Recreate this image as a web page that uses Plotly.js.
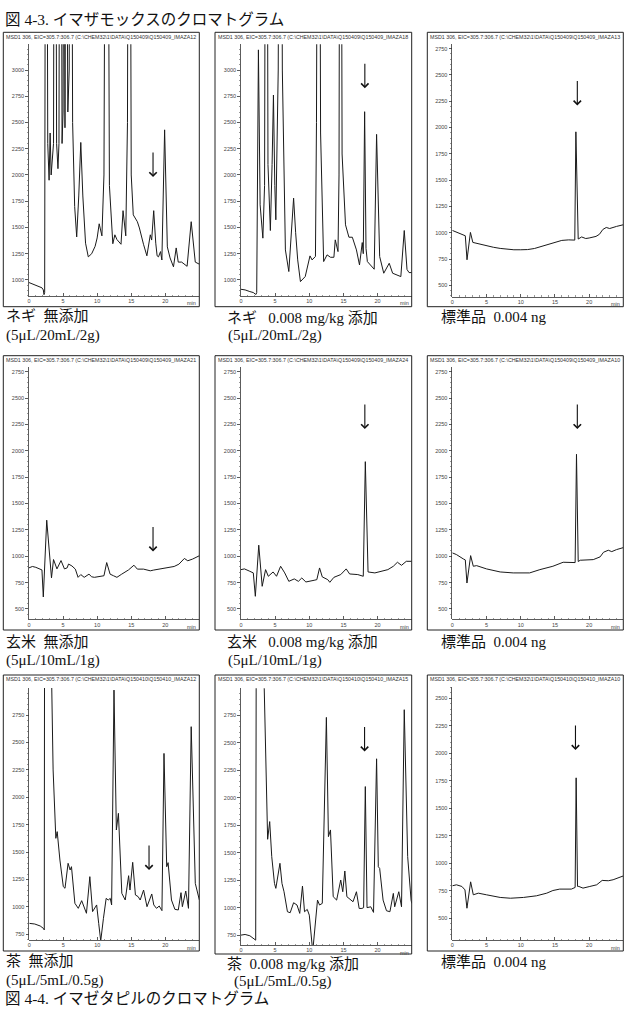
<!DOCTYPE html>
<html>
<head>
<meta charset="utf-8">
<script src="https://cdn.plot.ly/plotly-3.0.1.min.js"></script>
<style>
  html, body { margin: 0; padding: 0; background: #fff; }
  #chart { width: 626px; height: 1009px; }
</style>
</head>
<body>
<div id="chart"></div>
<script>
// ---- Chromatogram data: retention time (min) and EIC signal ----
// Figure 4-3, row 1: leek (ネギ)
const negiBlankTime = [0, 0.5, 1.0, 1.5, 1.9, 2.1, 2.2, 2.3, 2.5, 2.75, 2.95, 3.1, 3.25, 3.6, 3.8, 4.05, 4.25, 4.4, 4.6, 4.85, 5.0, 5.15, 5.28, 5.42, 5.7, 5.9, 6.1, 6.4, 6.7, 7.0, 7.3, 7.6, 7.9, 8.3, 8.7, 9.2, 9.7, 10.0, 10.3, 10.7, 11.0, 11.4, 11.8, 12.3, 12.6, 12.9, 13.5, 13.8, 14.2, 14.45, 14.7, 15.0, 15.3, 15.9, 16.2, 16.5, 16.8, 17.3, 17.8, 18.0, 18.3, 18.6, 18.8, 19.0, 19.3, 19.5, 19.9, 20.3, 20.7, 21.2, 21.6, 21.9, 22.4, 23.2, 23.8, 24.4, 25.0];
const negiBlankSignal = [975, 962, 950, 938, 925, 905, 860, 880, 9000, 2300, 1950, 2400, 2000, 2300, 9000, 2300, 2060, 2300, 9000, 2300, 2600, 6000, 2450, 6000, 2600, 3000, 9000, 2500, 1700, 1410, 1800, 2310, 1800, 1350, 1220, 1250, 1320, 1400, 1535, 1420, 2000, 9000, 1900, 1345, 1430, 1385, 1340, 1660, 1420, 2500, 9000, 2000, 1620, 1555, 1495, 1400, 1340, 1230, 1430, 1380, 1660, 1350, 1230, 1220, 1270, 1190, 2430, 1315, 1210, 1125, 1305, 1170, 1170, 1130, 1555, 1170, 1150];

const negiSpikeTime = [0, 0.6, 1.3, 1.8, 2.1, 2.2, 2.3, 2.55, 2.8, 3.2, 3.45, 3.7, 3.95, 4.3, 4.55, 4.75, 4.95, 5.1, 5.45, 5.75, 6.05, 6.5, 7.0, 7.4, 7.7, 8.0, 8.3, 8.7, 9.4, 10.1, 10.4, 10.9, 11.05, 11.35, 11.65, 12.1, 12.6, 13.1, 13.6, 13.8, 14.2, 14.35, 14.55, 14.8, 15.3, 15.8, 16.3, 16.9, 17.35, 17.75, 17.9, 18.1, 18.3, 18.5, 19.0, 19.5, 19.85, 20.3, 20.9, 21.7, 22.2, 22.9, 23.4, 23.9, 24.3, 24.6, 25.0];
const negiSpikeSignal = [911, 905, 889, 880, 865, 862, 880, 3192, 1716, 1398, 1900, 9000, 2100, 1471, 2100, 2762, 1900, 1573, 3000, 9000, 3000, 1286, 1080, 1500, 1779, 1450, 1191, 984, 1032, 1229, 1191, 1223, 2500, 9000, 2400, 1175, 1239, 1216, 1216, 1382, 1270, 2000, 9000, 2200, 1525, 1407, 1407, 1286, 1143, 1356, 1250, 2603, 1300, 1175, 1143, 1102, 2387, 1223, 1064, 1159, 1064, 1041, 1032, 1471, 1100, 1070, 1070];

const std1Time = [0, 0.5, 1.0, 1.5, 1.9, 2.15, 2.4, 2.65, 3.0, 3.5, 4.0, 5.0, 6.0, 7.0, 8.0, 9.0, 10.0, 11.0, 12.0, 13.0, 14.0, 15.0, 16.0, 17.0, 17.9, 18.06, 18.4, 18.9, 19.5, 20.0, 21.0, 21.5, 22.0, 22.5, 23.0, 24.0, 25.0];
const std1Signal = [1022, 1010, 1000, 985, 971, 743, 880, 1003, 908, 900, 890, 876, 862, 851, 842, 838, 838, 840, 850, 868, 886, 905, 927, 932, 930, 1959, 940, 960, 945, 950, 965, 985, 1031, 1050, 1040, 1060, 1076];

// Row 2: brown rice (玄米)
const riceBlankTime = [0, 0.5, 1.0, 1.5, 1.9, 2.1, 2.6, 3.3, 3.6, 4.1, 4.7, 5.2, 5.6, 5.8, 6.3, 6.8, 7.2, 7.6, 8.1, 8.8, 9.2, 9.6, 10.6, 11.0, 11.4, 11.9, 12.4, 12.9, 13.6, 14.6, 15.4, 15.9, 16.8, 17.8, 18.3, 19.3, 20.3, 21.3, 22.0, 22.8, 23.3, 24.0, 25.0];
const riceBlankSignal = [890, 903, 895, 880, 870, 614, 1342, 795, 969, 880, 959, 880, 890, 926, 908, 878, 800, 826, 800, 830, 805, 800, 807, 815, 940, 830, 815, 800, 830, 870, 915, 878, 878, 862, 869, 878, 894, 903, 925, 979, 957, 973, 1005];

const riceSpikeTime = [0, 0.5, 1.2, 1.8, 2.1, 2.6, 3.1, 3.6, 4.0, 4.7, 5.2, 5.8, 6.4, 7.0, 7.8, 8.4, 8.9, 9.5, 10.7, 11.1, 11.5, 11.9, 12.7, 13.0, 13.6, 14.6, 15.4, 15.9, 17.1, 17.9, 18.2, 18.6, 19.6, 20.6, 21.5, 22.3, 22.9, 23.5, 24.2, 25.0];
const riceSpikeSignal = [873, 880, 860, 842, 620, 1105, 715, 873, 810, 851, 810, 905, 842, 762, 785, 762, 794, 756, 772, 778, 889, 804, 778, 753, 800, 826, 880, 832, 826, 810, 1897, 851, 842, 857, 873, 905, 943, 914, 952, 952];

const std2Time = [0, 0.6, 1.6, 1.9, 2.14, 2.68, 3.07, 3.55, 5.0, 7.0, 8.9, 10.4, 11.3, 12.8, 14.7, 16.2, 17.7, 17.95, 18.15, 18.4, 18.7, 19.6, 20.6, 21.6, 22.1, 22.8, 23.3, 24.0, 25.0];
const std2Signal = [1032, 1016, 975, 965, 746, 1006, 905, 911, 880, 851, 842, 842, 842, 873, 905, 943, 937, 940, 1967, 950, 962, 962, 968, 994, 1038, 1057, 1044, 1063, 1082];

// Row 3: tea (茶)
const teaBlankTime = [0, 0.8, 1.6, 2.06, 2.2, 2.25, 2.7, 3.3, 3.5, 3.9, 4.1, 4.5, 5.0, 5.25, 5.7, 6.0, 6.2, 6.7, 7.2, 7.7, 8.4, 8.9, 9.3, 9.9, 10.2, 10.5, 10.9, 11.3, 11.6, 11.9, 12.1, 12.45, 12.8, 13.1, 13.6, 14.1, 14.6, 14.8, 15.2, 15.6, 16.0, 16.3, 16.8, 17.3, 18.0, 18.3, 18.7, 19.1, 19.5, 19.8, 20.2, 20.4, 20.9, 21.4, 21.9, 22.3, 22.5, 23.0, 23.4, 23.8, 24.4, 25.0];
const teaBlankSignal = [850, 844, 826, 805, 790, 4000, 9000, 3000, 2250, 1626, 1687, 1428, 1185, 1170, 1398, 1337, 1367, 1033, 987, 1057, 942, 1276, 957, 1018, 850, 690, 896, 1078, 1063, 1078, 1018, 2979, 1702, 1854, 1124, 1063, 1285, 1154, 1407, 1109, 1094, 1063, 1154, 1002, 1118, 1018, 987, 1008, 966, 2401, 1367, 1404, 1063, 978, 972, 1130, 1002, 1145, 987, 2645, 1215, 1063];

const teaSpikeTime = [0, 0.6, 1.3, 1.9, 2.15, 2.25, 2.7, 3.4, 3.7, 3.9, 4.2, 4.5, 4.9, 5.1, 5.7, 6.0, 6.3, 6.8, 7.2, 7.7, 8.2, 8.6, 9.0, 9.3, 9.7, 10.0, 10.5, 10.9, 11.2, 11.5, 11.9, 12.5, 12.8, 13.1, 13.5, 14.0, 14.6, 14.9, 15.2, 15.5, 16.0, 16.4, 16.9, 17.3, 17.7, 17.95, 18.2, 18.45, 19.0, 19.4, 19.85, 20.1, 20.3, 20.8, 21.3, 21.8, 22.3, 22.5, 23.1, 23.5, 23.9, 24.4, 24.9, 25.0];
const teaSpikeSignal = [750, 756, 744, 720, 704, 4000, 9000, 3000, 1951, 1623, 1784, 1465, 1221, 1176, 1404, 1221, 1145, 963, 954, 1045, 1024, 948, 1197, 963, 984, 932, 600, 917, 1069, 1024, 1039, 2733, 1647, 1708, 1100, 1069, 1252, 1145, 1334, 1100, 1078, 1054, 1145, 993, 993, 1000, 2103, 1000, 1008, 957, 2356, 1373, 1358, 1069, 972, 963, 1130, 1008, 1145, 1008, 2803, 1465, 1069, 1039];

const std3Time = [0, 0.6, 1.4, 1.85, 2.14, 2.68, 3.07, 3.8, 5.0, 7.0, 8.5, 10.4, 12.3, 13.8, 14.7, 15.7, 17.4, 17.8, 17.95, 18.1, 18.3, 18.5, 19.1, 20.1, 21.1, 21.9, 22.8, 23.5, 24.2, 24.7, 25.0];
const std3Signal = [795, 804, 789, 758, 591, 831, 713, 728, 713, 689, 682, 689, 704, 728, 752, 765, 765, 774, 780, 1777, 790, 789, 774, 789, 804, 844, 841, 850, 865, 880, 885];

// Target peak marks (retention time, signal level at arrow tip)
const markTime  = [18.2, 18.13, 18.27, 18.2, 18.13, 18.27, 17.6, 18.09, 18.0];
const markLevel = [1980, 2826, 2209, 1045, 2206, 2206, 1337, 2422, 2030];

// Panel header lines and captions
const headers = [
  'MSD1 306, EIC=305.7:306.7 (C:\\CHEM32\\1\\DATA\\Q150409\\Q150409_IMAZA12',
  'MSD1 306, EIC=305.7:306.7 (C:\\CHEM32\\1\\DATA\\Q150409\\Q150409_IMAZA18',
  'MSD1 306, EIC=305.7:306.7 (C:\\CHEM32\\1\\DATA\\Q150409\\Q150409_IMAZA13',
  'MSD1 306, EIC=305.7:306.7 (C:\\CHEM32\\1\\DATA\\Q150409\\Q150409_IMAZA21',
  'MSD1 306, EIC=305.7:306.7 (C:\\CHEM32\\1\\DATA\\Q150409\\Q150409_IMAZA24',
  'MSD1 306, EIC=305.7:306.7 (C:\\CHEM32\\1\\DATA\\Q150409\\Q150409_IMAZA10',
  'MSD1 306, EIC=305.7:306.7 (C:\\CHEM32\\1\\DATA\\Q150410\\Q150410_IMAZA12',
  'MSD1 306, EIC=305.7:306.7 (C:\\CHEM32\\1\\DATA\\Q150410\\Q150410_IMAZA15',
  'MSD1 306, EIC=305.7:306.7 (C:\\CHEM32\\1\\DATA\\Q150410\\Q150410_IMAZA10'
];
const captionMain = [
  'ネギ\u00a0\u00a0無添加', 'ネギ\u00a0\u00a0\u00a00.008 mg/kg 添加', '標準品\u00a0\u00a00.004 ng',
  '玄米\u00a0\u00a0無添加', '玄米\u00a0\u00a0\u00a00.008 mg/kg 添加', '標準品\u00a0\u00a00.004 ng',
  '茶\u00a0\u00a0無添加', '茶\u00a0\u00a00.008 mg/kg 添加', '標準品\u00a0\u00a00.004 ng'
];
const captionSub = [
  '(5μL/20mL/2g)', '(5μL/20mL/2g)', '',
  '(5μL/10mL/1g)', '(5μL/10mL/1g)', '',
  '(5μL/5mL/0.5g)', '(5μL/5mL/0.5g)', ''
];
const figureTitles = ['図 4-3.\u00a0イマザモックスのクロマトグラム', '図 4-4.\u00a0イマゼタピルのクロマトグラム'];

// ---- Page geometry (pixels) ----
const W = 626, H = 1009;
const px = v => v / W;
const py = v => 1 - v / H;

const series = [
  [negiBlankTime, negiBlankSignal], [negiSpikeTime, negiSpikeSignal], [std1Time, std1Signal],
  [riceBlankTime, riceBlankSignal], [riceSpikeTime, riceSpikeSignal], [std2Time, std2Signal],
  [teaBlankTime, teaBlankSignal], [teaSpikeTime, teaSpikeSignal], [std3Time, std3Signal]
];

// plot box [left, top, right, bottom], frame box, y range, header y, caption positions
const geom = [
  { plot: [29, 44.3, 199.3, 296],     frame: [3.3, 32.3, 199.3, 306.7], yr: [847, 3245], head: 36.7, cap: [4, 316, 4, 335] },
  { plot: [241, 44.3, 411.7, 296],    frame: [215, 32.3, 411.7, 306.7], yr: [847, 3245], head: 36.7, cap: [225, 317.5, 226, 335] },
  { plot: [452.3, 44.3, 623.3, 296.7],frame: [427.3, 32.3, 623.3, 306.7], yr: [392, 2791], head: 36.7, cap: [439, 316.7, 439, 335] },
  { plot: [29, 367.3, 199.3, 619.3],  frame: [3.3, 355.7, 199.3, 630], yr: [402, 2792], head: 359.5, cap: [4, 641.7, 4, 660] },
  { plot: [241, 367.3, 411.7, 619.3], frame: [215, 355.7, 411.7, 630], yr: [402, 2792], head: 359.5, cap: [225, 641.7, 226, 660] },
  { plot: [452.3, 367.3, 623.3, 619.3], frame: [427.3, 355.7, 623.3, 630], yr: [402, 2792], head: 359.5, cap: [439, 641.7, 439, 660] },
  { plot: [29.3, 688, 199.3, 940],    frame: [3.3, 675, 199.3, 951], yr: [698, 2998], head: 678.5, cap: [4, 961, 4, 980] },
  { plot: [241, 688.3, 411.7, 945],   frame: [215, 675, 411.7, 954], yr: [660, 2998], head: 678.5, cap: [225, 963.5, 231.7, 981] },
  { plot: [452.3, 686.7, 623.3, 940], frame: [427.3, 675, 623.3, 951], yr: [302, 2606], head: 678.5, cap: [439, 961.7, 439, 980] }
];

const tickFont = { family: '"Liberation Sans Narrow", "Liberation Sans", Arial, sans-serif', size: 5.5, color: '#444' };
const captionFont = { family: '"Liberation Serif", "Times New Roman", "Noto Sans CJK JP", serif', size: 15, color: '#111' };
const axisColor = '#333';

const traces = [];
const layout = {
  width: W, height: H,
  margin: { l: 0, r: 0, t: 0, b: 0 },
  paper_bgcolor: '#fff', plot_bgcolor: '#fff',
  showlegend: false,
  shapes: [], annotations: []
};

series.forEach(([t, v], i) => {
  const k = i + 1;
  const xn = k === 1 ? 'x' : 'x' + k;
  const yn = k === 1 ? 'y' : 'y' + k;
  const g = geom[i];

  traces.push({
    type: 'scatter', mode: 'lines', x: t, y: v,
    xaxis: xn, yaxis: yn,
    line: { color: '#1a1a1a', width: 1 },
    hoverinfo: 'skip'
  });

  layout[k === 1 ? 'xaxis' : 'xaxis' + k] = {
    domain: [px(g.plot[0]), px(g.plot[2])],
    anchor: yn,
    range: [0, 24.99],
    tickmode: 'linear', tick0: 0, dtick: 5,
    ticks: 'inside', ticklen: 3, tickwidth: 0.8, tickcolor: axisColor,
    minor: { tickmode: 'linear', tick0: 0, dtick: 1, ticks: 'inside', ticklen: 1.5, tickwidth: 0.6, tickcolor: '#555' },
    showline: true, linecolor: axisColor, linewidth: 0.8,
    showgrid: false, zeroline: false,
    tickfont: tickFont, fixedrange: true
  };
  layout[k === 1 ? 'yaxis' : 'yaxis' + k] = {
    domain: [py(g.plot[3]), py(g.plot[1])],
    anchor: xn,
    range: g.yr,
    tickmode: 'linear', tick0: 0, dtick: 250,
    ticks: 'outside', ticklen: 3, tickwidth: 0.8, tickcolor: axisColor,
    minor: { tickmode: 'linear', tick0: 0, dtick: 50, ticks: 'outside', ticklen: 1.5, tickwidth: 0.6, tickcolor: '#555' },
    showline: true, linecolor: axisColor, linewidth: 0.8,
    showgrid: false, zeroline: false,
    tickfont: tickFont, fixedrange: true
  };

  // panel frame
  layout.shapes.push({
    type: 'rect', xref: 'paper', yref: 'paper',
    x0: px(g.frame[0]), x1: px(g.frame[2]), y0: py(g.frame[3]), y1: py(g.frame[1]),
    line: { color: '#222', width: 1 }, fillcolor: 'rgba(0,0,0,0)', layer: 'above'
  });

  // header line of the data file
  layout.annotations.push({
    xref: 'paper', yref: 'paper', x: px(g.frame[2] - 1.5), y: py(g.head),
    xanchor: 'right', yanchor: 'middle', showarrow: false,
    text: headers[i], font: { family: tickFont.family, size: 5.3, color: '#333' }
  });

  // time unit label at the end of the x axis
  layout.annotations.push({
    xref: xn + ' domain', yref: yn + ' domain', x: 1, y: 0,
    xanchor: 'right', yanchor: 'top', yshift: -2.5, xshift: -1,
    showarrow: false, text: 'min', font: tickFont
  });

  // arrow marking the target compound
  layout.annotations.push({
    xref: xn, yref: yn, x: markTime[i], y: markLevel[i],
    ax: 0, ay: -26, showarrow: true, text: '',
    arrowhead: 4, arrowsize: 1.3, arrowwidth: 1.1, arrowcolor: '#111', standoff: 0
  });

  // captions under the panel
  layout.annotations.push({
    xref: 'paper', yref: 'paper', x: px(g.cap[0]), y: py(g.cap[1]),
    xanchor: 'left', yanchor: 'middle', showarrow: false,
    text: captionMain[i], font: captionFont
  });
  if (captionSub[i]) {
    layout.annotations.push({
      xref: 'paper', yref: 'paper', x: px(g.cap[2]), y: py(g.cap[3]),
      xanchor: 'left', yanchor: 'middle', showarrow: false,
      text: captionSub[i], font: captionFont
    });
  }
});

// figure titles
[[3, 20], [3, 998.3]].forEach(([x, y], j) => {
  layout.annotations.push({
    xref: 'paper', yref: 'paper', x: px(x), y: py(y),
    xanchor: 'left', yanchor: 'middle', showarrow: false,
    text: figureTitles[j], font: Object.assign({}, captionFont, { size: 15.5 })
  });
});

Plotly.newPlot('chart', traces, layout, { staticPlot: true, displayModeBar: false });
</script>
</body>
</html>
